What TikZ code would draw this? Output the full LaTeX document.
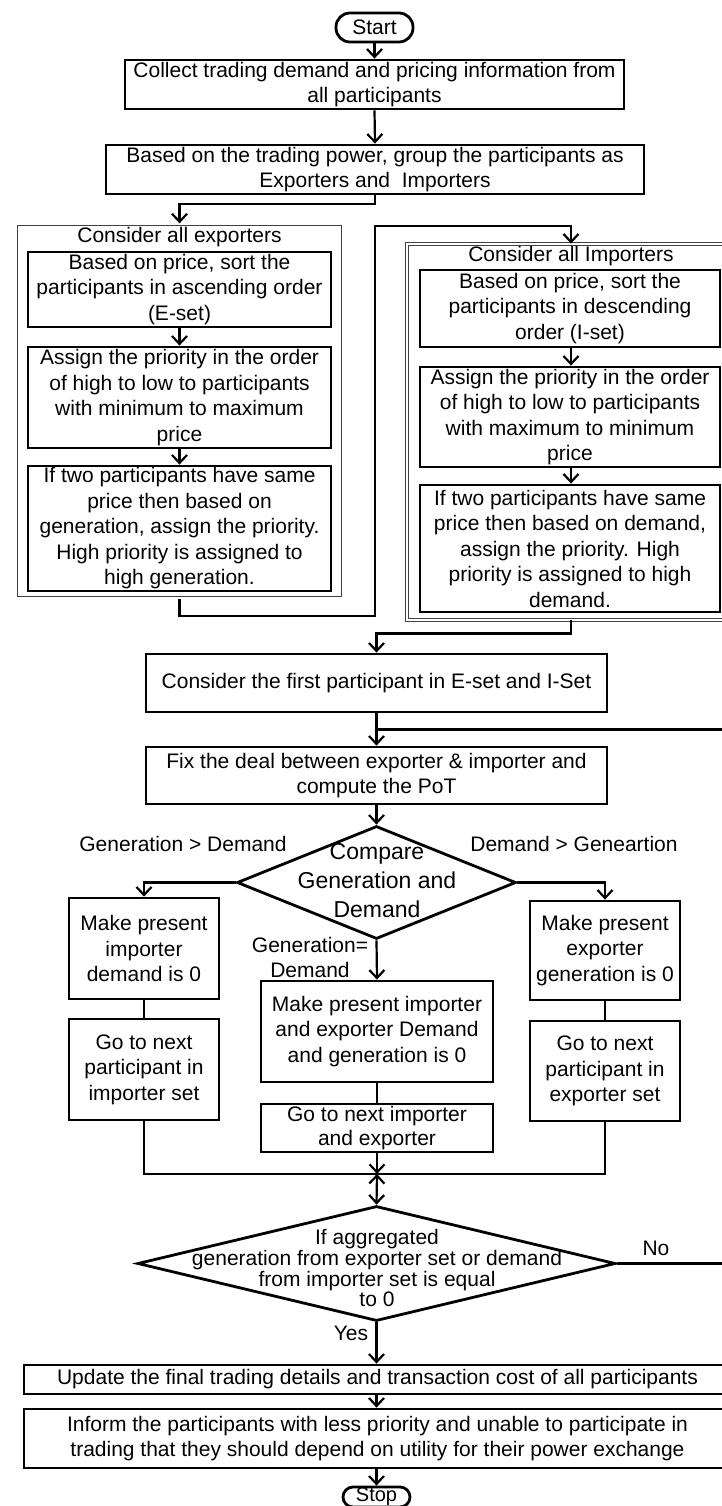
\documentclass[tikz,border=0pt]{standalone}
\usepackage{fontspec}
\setmainfont{Liberation Sans}
\usetikzlibrary{arrows.meta,shapes.geometric,calc}
\tikzset{
  box/.style={draw, line width=2.8pt, inner sep=0pt, align=center, font=\fontsize{21}{25.5}\selectfont},
  lbl/.style={align=center, inner sep=0pt, font=\fontsize{21}{25.5}\selectfont},
  conn/.style={line width=2.2pt},
  arr/.style={line width=2.2pt, -{Straight Barb[length=8pt,width=15pt]}},
  arrboth/.style={line width=2.2pt, {Straight Barb[length=8pt,width=15pt]}-{Straight Barb[length=8pt,width=15pt]}},
  panel/.style={draw=black!75, double, double distance=2.6pt, line width=0.8pt, inner sep=0pt},
  dia/.style={diamond, draw, line width=2.8pt, inner sep=0pt},
}
\begin{document}
\begin{tikzpicture}[x=1pt,y=-1pt]
\useasboundingbox (0,0) rectangle (722,1506);
\fill[white] (0,0) rectangle (722,1506);

% top
\node[box, rounded corners=14pt, minimum width=77pt, minimum height=29pt] (start) at (374.5,27.5) {Start};
\node[box, minimum width=499pt, minimum height=49pt] (b1) at (374.5,84.5) {Collect trading demand and pricing information from\\all participants};
\node[box, minimum width=538pt, minimum height=49pt] (b2) at (375,169.5) {Based on the trading power, group the participants as\\Exporters and\ \ Importers};
\draw[arr] (start.south) -- (b1.north);
\draw[arr] (b1.south) -- (b2.north);

% exporter panel
\node[panel, minimum width=327.5pt, minimum height=374.5pt] (ep) at (179.5,411) {};
\node[lbl] (et) at (179.5,237) {Consider all exporters};
\node[box, minimum width=303pt, minimum height=75pt] (eA) at (179.5,289.5) {Based on price, sort the\\participants in ascending order\\(E-set)};
\node[box, minimum width=303pt, minimum height=101pt] (eB) at (179.5,397.5) {Assign the priority in the order\\of high to low to participants\\with minimum to maximum\\price};
\node[box, minimum width=303pt, minimum height=125pt] (eC) at (179.5,528.5) {If two participants have same\\price then based on\\generation, assign the priority.\\High priority is assigned to\\high generation.};
\draw[arr] (eA.south) -- (eB.north);
\draw[arr] (eB.south) -- (eC.north);

% importer panel
\node[panel, minimum width=319pt, minimum height=376pt] (ip) at (566.5,432) {};
\node[lbl] (it) at (571,256) {Consider all Importers};
\node[box, minimum width=300pt, minimum height=77pt] (iA) at (570,308.5) {Based on price, sort the\\participants in descending\\order (I-set)};
\node[box, minimum width=300pt, minimum height=100pt] (iB) at (570,417) {Assign the priority in the order\\of high to low to participants\\with maximum to minimum\\price};
\node[box, minimum width=300pt, minimum height=127pt] (iC) at (570,548.5) {If two participants have same\\price then based on demand,\\assign the priority. High\\priority is assigned to high\\demand.};
\draw[arr] ([xshift=1pt]iA.south) -- ([xshift=1pt]iB.north);
\draw[arr] ([xshift=1pt]iB.south) -- ([xshift=1pt]iC.north);

% panel connectors
\draw[arr] (b2.south) -- ++(0,9) -| (ep.north);
\draw[arr] (ep.south) -- ++(0,17) -| (375,226) -| ([xshift=4.5pt]ip.north);

% consider first / fix deal
\node[box, minimum width=461pt, minimum height=58pt] (c1) at (376.5,683) {Consider the first participant in E-set and I-Set};
\node[box, minimum width=461pt, minimum height=57pt] (fix) at (376.5,775.5) {Fix the deal between exporter \& importer and\\compute the PoT};
\draw[arr] ([xshift=4.5pt]ip.south) -- ++(0,13) -| (c1.north);
\draw[arr] (c1.south) -- (fix.north);

% compare diamond
\node[dia, minimum width=279pt, minimum height=113pt] (d1) at (376.5,882.5) {};
\node[align=center, inner sep=0pt, font=\fontsize{23}{29}\selectfont] (d1t) at (377,881) {Compare\\Generation and\\Demand};
\draw[arr] (fix.south) -- (d1.north);

\node[lbl] (lg) at (183,844) {Generation > Demand};
\node[lbl] (rg) at (574,844) {Demand > Geneartion};
\node[lbl, font=\fontsize{21}{25}\selectfont] (mg) at (310,957.5) {Generation=\\Demand};

% branches
\node[box, minimum width=150pt, minimum height=101pt] (lb1) at (144,948.5) {Make present\\importer\\demand is 0};
\node[box, minimum width=150pt, minimum height=101pt] (lb2) at (144,1069.5) {Go to next\\participant in\\importer set};
\node[box, minimum width=232pt, minimum height=101pt] (mb1) at (377,1031.5) {Make present importer\\and exporter Demand\\and generation is 0};
\node[box, minimum width=232pt, minimum height=48pt, font=\fontsize{21}{24}\selectfont] (mb2) at (377,1128) {Go to next importer\\and exporter};
\node[box, minimum width=150pt, minimum height=99pt] (rb1) at (605,950.5) {Make present\\exporter\\generation is 0};
\node[box, minimum width=150pt, minimum height=100pt] (rb2) at (605,1071) {Go to next\\participant in\\exporter set};

\draw[arr] (d1.west) -| (lb1.north);
\draw[arr] (d1.south) -- (mb1.north);
\draw[arr] (d1.east) -| (rb1.north);
\draw[conn] (lb1.south) -- (lb2.north);
\draw[conn] (mb1.south) -- (mb2.north);
\draw[conn] (rb1.south) -- (rb2.north);

\coordinate (j) at ($(mb2.south)+(0,20.5)$);
\draw[conn] (lb2.south) |- (j);
\draw[conn] (rb2.south) |- (j);
\draw[arr] (mb2.south) -- (j);

% second diamond
\node[dia, minimum width=478pt, minimum height=115pt] (d2) at (376.5,1263.5) {};
\node[align=center, inner sep=0pt, font=\fontsize{21}{17.5}\selectfont] (d2t) at (377,1268) {If aggregated\\generation from exporter set or demand\\from importer set is equal\\to 0};
\draw[arrboth] (j) -- (d2.north);

\node[lbl] (no) at (656,1248) {No};
\node[lbl] (yes) at (351,1333) {Yes};
\draw[conn] (d2.east) -- ++(110,0) |- ($(c1.south)!0.5!(fix.north)$);

% bottom
\node[box, minimum width=707pt, minimum height=29pt] (upd) at (377.5,1379.5) {Update the final trading details and transaction cost of all participants};
\node[box, minimum width=707pt, minimum height=59pt] (inf) at (377.5,1438.5) {Inform the participants with less priority and unable to participate in\\trading that they should depend on utility for their power exchange};
\node[box, rounded corners=10pt, minimum width=67pt, minimum height=20pt, font=\fontsize{20}{24}\selectfont] (stop) at (376.5,1497) {Stop};
\draw[arr] (d2.south) -- (d2.south |- upd.north);
\draw[arr] (d2.south |- upd.south) -- (d2.south |- inf.north);
\draw[arr] (d2.south |- inf.south) -- (stop.north);
\end{tikzpicture}
\end{document}
